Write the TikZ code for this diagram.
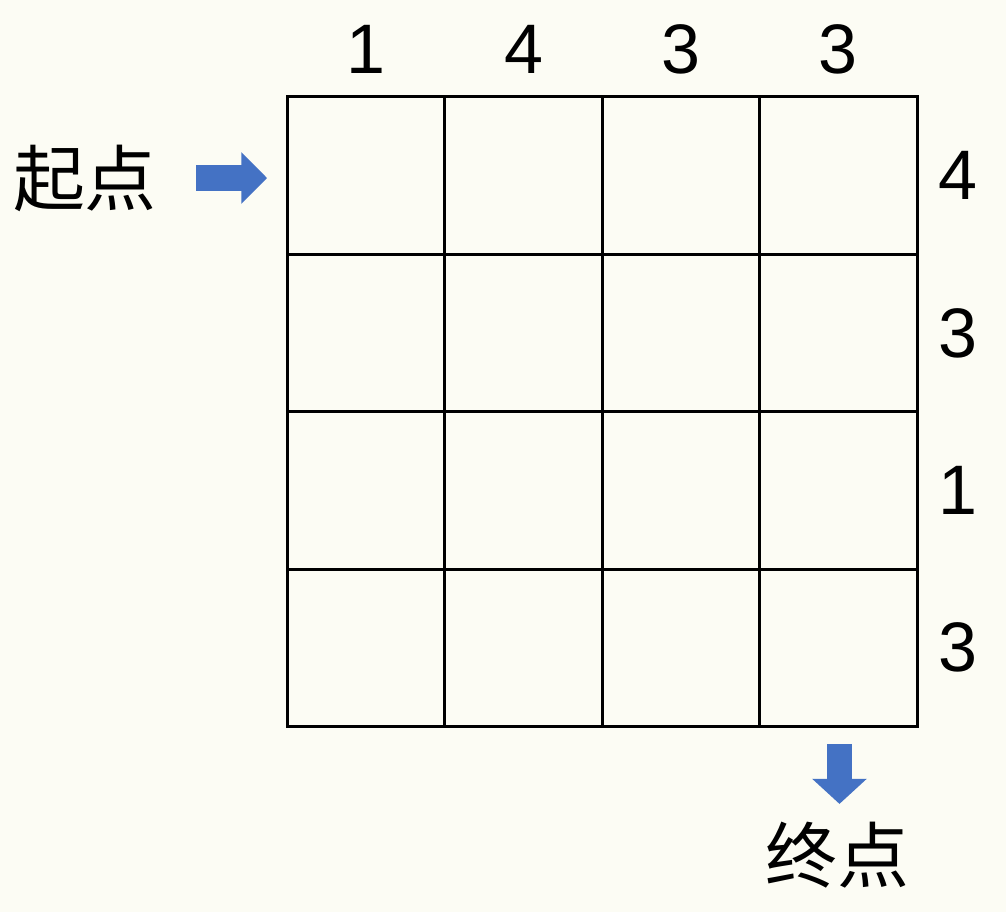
\documentclass[tikz,border=0pt]{standalone}
\usepackage{fontspec}
\setmainfont{Liberation Sans}
\newfontfamily\cjk{Noto Sans CJK SC}
\usetikzlibrary{arrows.meta,positioning}
\definecolor{paper}{HTML}{FCFCF4}
\definecolor{arrowblue}{HTML}{4472C4}

\begin{document}
\begin{tikzpicture}[x=1.5cm, y=1.5cm,
    cell/.style={rectangle, draw, line width=0.8pt, minimum size=1.5cm, inner sep=0pt},
    sumtext/.style={font=\fontsize{19}{19}\selectfont, inner sep=0pt},
    cjktext/.style={font=\cjk\fontsize{19.5}{20}\selectfont, inner sep=0pt},
    bluearrow/.style={arrowblue, line width=7pt}]

% page and background
\fill[paper] (-1.827,0.616) rectangle (4.565,-5.178);
\useasboundingbox (-1.827,0.616) rectangle (4.565,-5.178);

% 4x4 board
\foreach \r in {1,...,4}
    \foreach \c in {1,...,4}
        \node[cell] (c\r\c) at (\c-0.5, -\r+0.5) {};

% column numbers
\foreach \c/\v in {1/1, 2/4, 3/3, 4/3}
    \node[sumtext] (top\c) at (\c-0.5, 0.3) {\v};

% row numbers
\foreach \r/\v in {1/4, 2/3, 3/1, 4/3}
    \node[sumtext] (side\r) at (4.26, -\r+0.5) {\v};

% start
\node[cjktext] (start) at (-1.287, -0.515) {起点};
\coordinate (startfrom) at (-0.581, -0.515);
\coordinate (startto) at (-0.130, -0.515);
\draw[bluearrow, -{Triangle[length=7pt, width=13.6pt]}] (startfrom) -- (startto);

% end
\coordinate (endfrom) at (3.507, -4.111);
\coordinate (endto) at (3.507, -4.492);
\draw[bluearrow, -{Triangle[length=6.8pt, width=14.4pt]}] (endfrom) -- (endto);
\node[cjktext] (finish) at (3.497, -4.816) {终点};

\end{tikzpicture}
\end{document}
